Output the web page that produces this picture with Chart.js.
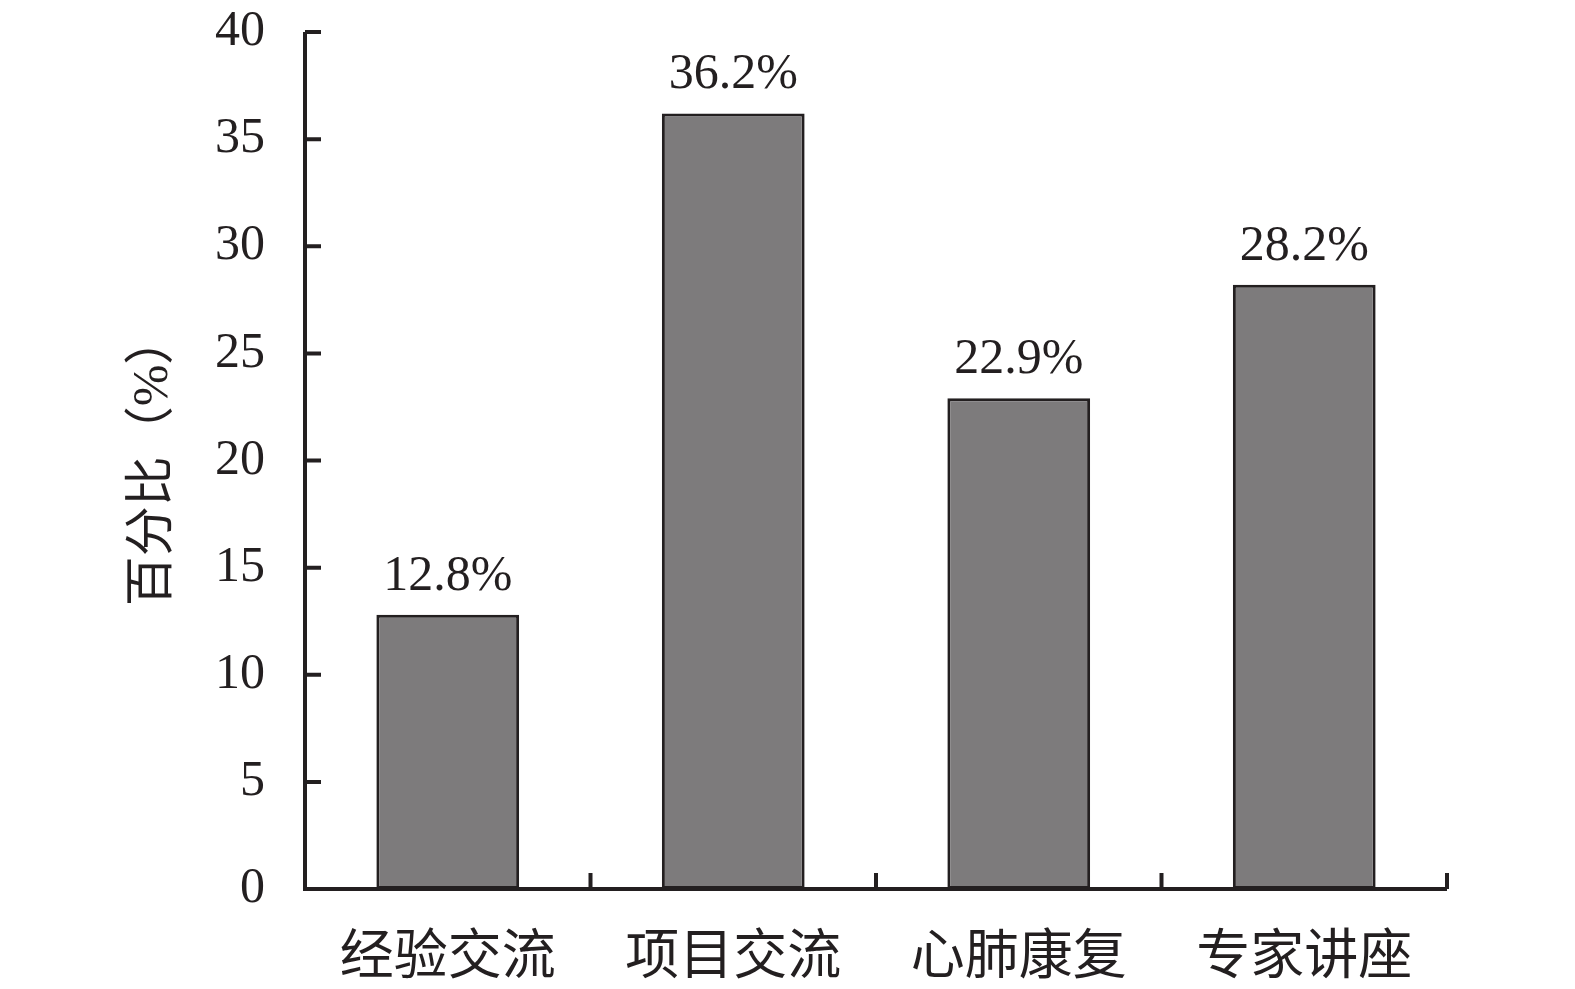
<!DOCTYPE html>
<html>
<head>
<meta charset="utf-8">
<script src="https://cdn.jsdelivr.net/npm/chart.js@4/dist/chart.umd.min.js"></script>
<style>
  html, body { margin: 0; padding: 0; background: #fff; }
  #wrap { width: 1575px; height: 989px; }
</style>
</head>
<body>
<div id="wrap"><canvas id="chart"></canvas></div>
<script>
const categories = ['经验交流', '项目交流', '心肺康复', '专家讲座'];
const percents = [12.8, 36.2, 22.9, 28.2];
const yTicks = [0, 5, 10, 15, 20, 25, 30, 35, 40];
const yTitle = '百分比（%）';

const ink = '#231f20';
const serif = '"Liberation Serif", "Noto Sans CJK SC", serif';

// axis lines and inward ticks, like the printed figure
const axesPlugin = {
  id: 'axes',
  afterDatasetsDraw(chart) {
    const ctx = chart.ctx;
    const area = chart.chartArea;
    const x = chart.scales.x, y = chart.scales.y;
    ctx.save();
    ctx.strokeStyle = ink;
    ctx.lineWidth = 4;
    ctx.lineCap = 'butt';
    ctx.beginPath();
    ctx.moveTo(area.left, area.top);
    ctx.lineTo(area.left, area.bottom + 2);
    ctx.moveTo(area.left - 2, area.bottom);
    ctx.lineTo(area.right, area.bottom);
    yTicks.forEach(v => {
      const py = y.getPixelForValue(v);
      ctx.moveTo(area.left, py);
      ctx.lineTo(area.left + 16, py);
    });
    const step = x.width / categories.length;
    for (let i = 1; i <= categories.length; i++) {
      const px = x.left + step * i;
      ctx.moveTo(px, area.bottom);
      ctx.lineTo(px, area.bottom - 16);
    }
    ctx.stroke();

    // value labels above bars
    ctx.fillStyle = ink;
    ctx.font = '50px ' + serif;
    ctx.textAlign = 'center';
    ctx.textBaseline = 'alphabetic';
    chart.getDatasetMeta(0).data.forEach((bar, i) => {
      ctx.fillText(percents[i].toFixed(1) + '%', bar.x, bar.y - 25);
    });
    ctx.restore();
  }
};

new Chart(document.getElementById('chart'), {
  type: 'bar',
  data: {
    labels: categories,
    datasets: [{
      data: percents,
      backgroundColor: '#7d7b7c',
      borderColor: ink,
      borderWidth: 3,
      borderSkipped: false,
      categoryPercentage: 1,
      barPercentage: 0.5
    }]
  },
  options: {
    responsive: true,
    maintainAspectRatio: false,
    animation: false,
    layout: { padding: { left: 124, right: 128, top: 32, bottom: 0 } },
    plugins: {
      legend: { display: false },
      tooltip: { enabled: false }
    },
    scales: {
      x: {
        grid: { display: false, drawTicks: false },
        border: { display: false },
        ticks: {
          color: ink,
          padding: 38,
          font: { family: serif, size: 54 }
        },
        afterFit(scale) {
          scale.height = 100;
          scale.paddingLeft = 0;
          scale.paddingRight = 0;
        }
      },
      y: {
        min: 0,
        max: 40,
        grid: { display: false, drawTicks: false },
        border: { display: false },
        ticks: {
          stepSize: 5,
          color: ink,
          padding: 40,
          font: { family: serif, size: 50 }
        },
        title: {
          display: true,
          text: yTitle,
          color: ink,
          padding: 0,
          font: { family: serif, size: 50 }
        },
        afterFit(scale) {
          scale.width = 181;
          scale.paddingTop = 0;
          scale.paddingBottom = 0;
        }
      }
    }
  },
  plugins: [axesPlugin]
});
</script>
</body>
</html>
